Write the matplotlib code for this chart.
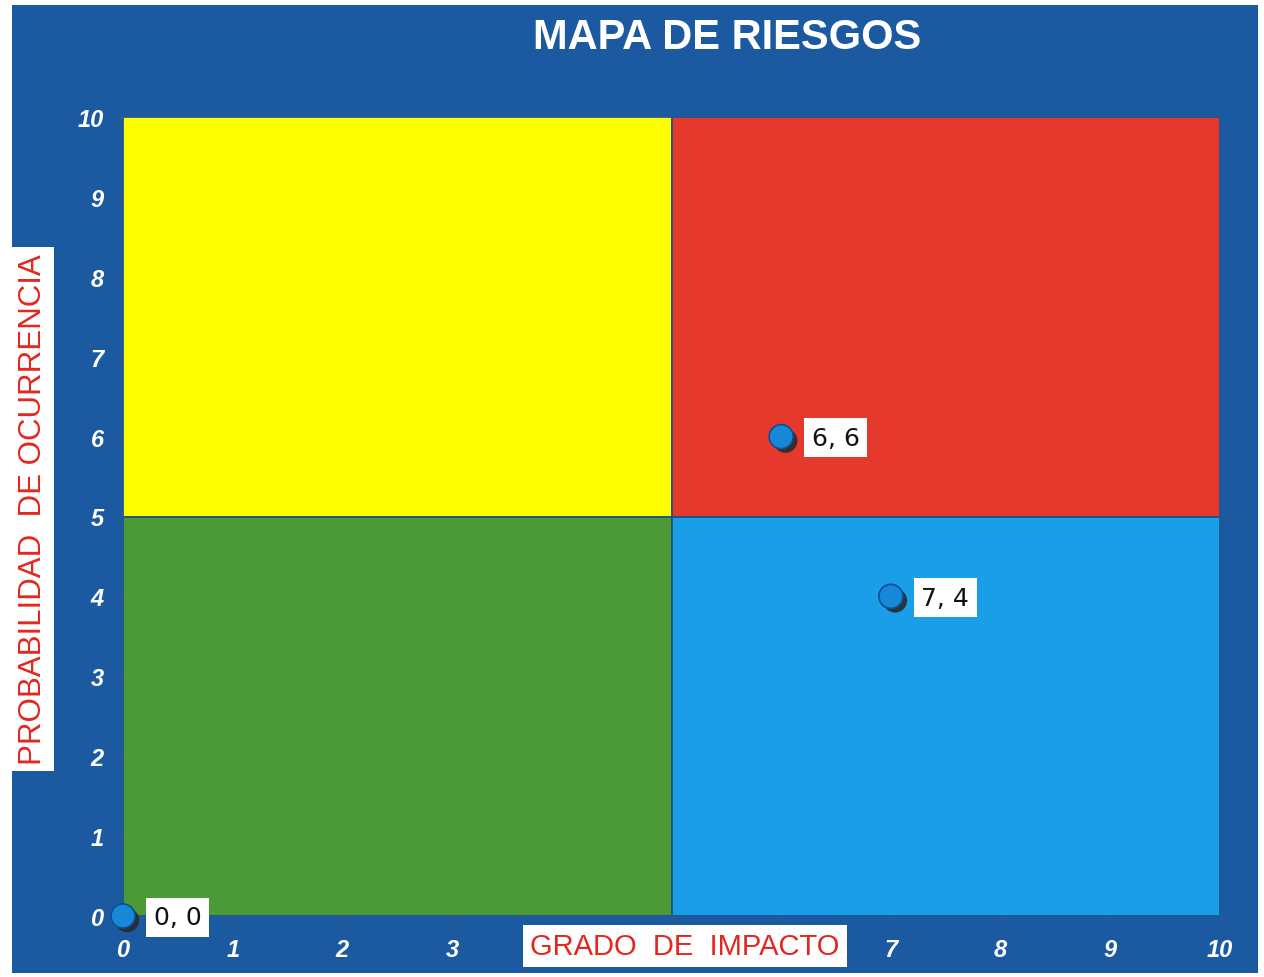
import matplotlib
matplotlib.use("Agg")
import matplotlib.pyplot as plt
import matplotlib.patheffects as pe
from matplotlib.patches import Rectangle

# --- datos ---
titulo = "MAPA DE RIESGOS"
eje_x = "GRADO  DE  IMPACTO"
eje_y = "PROBABILIDAD  DE OCURRENCIA"
impacto = [0, 6, 7]
probabilidad = [0, 6, 4]
etiquetas = ["0, 0", "6, 6", "7, 4"]
# cuadrantes (esquina inferior izquierda y color)
cuadrantes_x = [0, 5, 0, 5]
cuadrantes_y = [5, 5, 0, 0]
cuadrantes_color = ["#ffff00", "#e5392d", "#4b9a37", "#1a9ee8"]
ticks = list(range(0, 11))
# las marcas 4, 5 y 6 del eje X quedan tapadas por el título del eje
xtick_labels = ["" if t in (4, 5, 6) else str(t) for t in ticks]

FONDO = "#1b5aa0"

fig = plt.figure(figsize=(12.64, 9.78), dpi=100, facecolor="white")
# fondo azul del grafico (deja un pequeño margen blanco)
fig.patches.append(Rectangle((12 / 1264, 4 / 978), 1246 / 1264, 968 / 978,
                             transform=fig.transFigure, facecolor=FONDO,
                             edgecolor="none", zorder=-5))

ax = fig.add_axes([123 / 1264, 1 - 917 / 978, (1220 - 123) / 1264, (917 - 118) / 978])
ax.set_xlim(0, 10)
ax.set_ylim(0, 10)
ax.set_facecolor(FONDO)

for x0, y0, c in zip(cuadrantes_x, cuadrantes_y, cuadrantes_color):
    ax.add_patch(Rectangle((x0, y0), 5, 5, facecolor=c, edgecolor="#1d4f86", lw=1.2, zorder=1))

for s in ax.spines.values():
    s.set_visible(False)

ax.set_xticks(ticks)
ax.set_xticklabels(xtick_labels)
ax.set_yticks(ticks)
ax.tick_params(colors="#3a5a80", length=4, width=1)
ax.tick_params(axis="x", pad=12)
ax.tick_params(axis="y", pad=10)
for lab in ax.get_xticklabels() + ax.get_yticklabels():
    lab.set_color("white")
    lab.set_fontweight("bold")
    lab.set_fontstyle("italic")
    lab.set_fontsize(17)
    lab.set_family("Liberation Sans")

# puntos con sombra
ax.scatter(impacto, probabilidad, s=300, color="#1788d8", edgecolor="#0d4f90", lw=1.2,
           zorder=5, clip_on=False,
           path_effects=[pe.SimplePatchShadow(offset=(3, -3), shadow_rgbFace="#2a2a2a", alpha=0.9),
                         pe.Normal()])

for x, y, t in zip(impacto, probabilidad, etiquetas):
    ax.annotate(t, (x, y), xytext=(22, -1), textcoords="offset points",
                ha="left", va="center", fontsize=18, family="Liberation Sans Narrow",
                color="#111111", zorder=6,
                bbox=dict(boxstyle="square,pad=0.3", facecolor="white", edgecolor="none"))

fig.text(727 / 1264, 1 - 38 / 978, titulo, ha="center", va="center", color="white",
         fontsize=30, fontweight="bold", family="Liberation Sans")

fig.text(685 / 1264, 1 - 947 / 978, eje_x, ha="center", va="center", color="#e4261e",
         fontsize=21, family="Liberation Sans",
         bbox=dict(boxstyle="square,pad=0.25", facecolor="white", edgecolor="none"))
fig.text(33 / 1264, 1 - 510 / 978, eje_y, ha="center", va="center", color="#e4261e",
         fontsize=22.5, rotation=90, family="Liberation Sans",
         bbox=dict(boxstyle="square,pad=0.2", facecolor="white", edgecolor="none"))

fig.savefig("out.png", dpi=100, facecolor=fig.get_facecolor())
